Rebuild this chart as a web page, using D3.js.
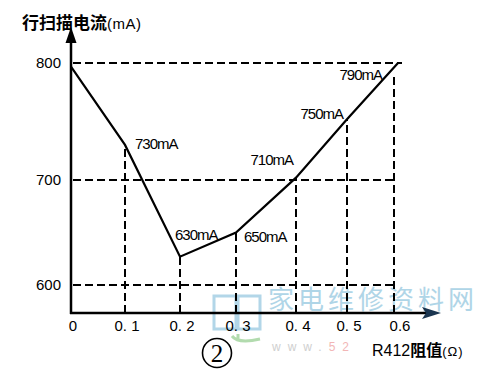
<!DOCTYPE html>
<html><head><meta charset="utf-8">
<script src="https://cdn.jsdelivr.net/npm/d3@7"></script>
<style>body{margin:0;background:#fff}svg{display:block}</style>
</head><body>
<script>
// ---- data ----
const resistance = [0, 0.1, 0.2, 0.3, 0.4, 0.5, 0.6];
const currentMA = [797, 730, 627, 650, 702, 752, 800];
const pointLabels = ["", "730mA", "630mA", "650mA", "710mA", "750mA", "790mA"];
const xTickValues = [0, 0.1, 0.2, 0.3, 0.4, 0.5, 0.6];
const xTickLabels = ["0", "0. 1", "0. 2", "0. 3", "0. 4", "0. 5", "0.6"];
const yTickValues = [600, 700, 800];
const yTickLabels = ["600", "700", "800"];
const yTitleMain = "行扫描电流", yTitleUnit = "(mA)";
const xTitleMain = "R412", xTitleCJK = "阻值", xTitleUnit = "(Ω)";
const figureNumber = "2"; // drawn inside a circle: ②
const watermark = "家电维修资料网";

// ---- layout (not data) ----
const W = 489, H = 370;
const labelPlacement = [null,
  {dx: 10, dy: 4, anchor: "start"},
  {dx: -5, dy: -17, anchor: "start"},
  {dx: 8, dy: 9, anchor: "start"},
  {dx: -3, dy: -13, anchor: "end"},
  {dx: -4, dy: 0, anchor: "end"},
  {dx: -16, dy: 17, anchor: "end"}];

const svg = d3.select("body").append("svg").attr("width", W).attr("height", H);
svg.append("rect").attr("width", W).attr("height", H).attr("fill", "#fff");

// hand-drawn chart: piecewise scales following the drawn tick positions
const x = d3.scaleLinear().domain(xTickValues).range([71, 125, 180, 236, 296, 347, 398]);
const y = d3.scaleLinear().domain(yTickValues).range([285, 180, 63]);

const axisY = 313, axisX = x(0);
const font = "'Liberation Sans', Arial, sans-serif";
const cjk = "'Noto Sans CJK SC', sans-serif";

// watermark
const wm = svg.append("g").attr("opacity", 0.8);
wm.append("rect").attr("x", 214).attr("y", 296).attr("width", 22).attr("height", 33)
  .attr("fill", "none").attr("stroke", "#9fcde3").attr("stroke-width", 3);
wm.append("rect").attr("x", 238).attr("y", 296).attr("width", 22).attr("height", 33)
  .attr("fill", "none").attr("stroke", "#9fcde3").attr("stroke-width", 3);
wm.append("path").attr("d", "M238,340 L238,334 M232,336 Q238,344 260,339")
  .attr("fill", "none").attr("stroke", "#9fd39a").attr("stroke-width", 3);
wm.append("text").attr("x", 268).attr("y", 309).attr("font-family", cjk)
  .attr("font-size", 26).attr("letter-spacing", 4).attr("fill", "#9ccbe2").text(watermark);
const wt = wm.append("text").attr("x", 272).attr("y", 351).attr("font-family", font)
  .attr("font-size", 12).attr("letter-spacing", 7);
wt.append("tspan").attr("fill", "#c4c4c4").text("www.");
wt.append("tspan").attr("fill", "#f0a5a5").text("52");

const dash = "8,4";
// horizontal dashed grid
svg.append("g").selectAll("line").data(yTickValues).join("line")
  .attr("x1", axisX + 2).attr("x2", d => d === 800 ? x(0.6) + 4 : x(0.6) - 4)
  .attr("y1", d => y(d)).attr("y2", d => y(d))
  .attr("stroke", "#000").attr("stroke-width", 2).attr("stroke-dasharray", dash);
// vertical dashed drop lines
svg.append("g").selectAll("line").data(resistance.slice(1)).join("line")
  .attr("x1", (d, i) => x(d) - (i === 5 ? 4 : 0)).attr("x2", (d, i) => x(d) - (i === 5 ? 4 : 0))
  .attr("y1", axisY).attr("y2", (d, i) => y(currentMA[i + 1]) + (i === 5 ? 10 : 0))
  .attr("stroke", "#000").attr("stroke-width", 2).attr("stroke-dasharray", dash);

// axes
svg.append("line").attr("x1", axisX).attr("x2", axisX).attr("y1", axisY + 1).attr("y2", 40)
  .attr("stroke", "#000").attr("stroke-width", 2.5);
svg.append("path").attr("d", `M${axisX},27 L${axisX - 5.5},43 L${axisX + 5.5},43 Z`).attr("fill", "#000");
svg.append("line").attr("x1", axisX - 1).attr("x2", 428).attr("y1", axisY).attr("y2", axisY)
  .attr("stroke", "#000").attr("stroke-width", 2.5);
svg.append("path").attr("d", `M441,${axisY} L422,${axisY - 6} L426,${axisY} L422,${axisY + 6} Z`).attr("fill", "#1a3550");

// data line
svg.append("path").datum(resistance.map((r, i) => [r, currentMA[i]]))
  .attr("d", d3.line().x(d => x(d[0])).y(d => y(d[1])))
  .attr("fill", "none").attr("stroke", "#000").attr("stroke-width", 2.2).attr("stroke-linejoin", "miter");

// point labels
svg.append("g").selectAll("text").data(resistance.map((r, i) => i).filter(i => pointLabels[i])).join("text")
  .attr("x", i => x(resistance[i]) + labelPlacement[i].dx)
  .attr("y", i => y(currentMA[i]) + labelPlacement[i].dy)
  .attr("text-anchor", i => labelPlacement[i].anchor)
  .attr("font-family", font).attr("font-size", 15).attr("letter-spacing", -1)
  .attr("fill", "#000").text(i => pointLabels[i]);

// y tick labels
svg.append("g").selectAll("text").data(yTickValues).join("text")
  .attr("x", 61).attr("y", d => y(d) + 5).attr("text-anchor", "end")
  .attr("font-family", font).attr("font-size", 15).attr("fill", "#000")
  .text((d, i) => yTickLabels[i]);

// x tick labels
svg.append("g").selectAll("text").data(xTickValues).join("text")
  .attr("x", d => x(d) + 2).attr("y", 331).attr("text-anchor", "middle")
  .attr("font-family", font).attr("font-size", 15).attr("fill", "#000")
  .text((d, i) => xTickLabels[i]);

// y title
const yt = svg.append("text").attr("x", 22).attr("y", 29).attr("fill", "#000");
yt.append("tspan").attr("font-family", cjk).attr("font-size", 17).attr("font-weight", "bold").text(yTitleMain);
yt.append("tspan").attr("font-family", font).attr("font-size", 15).attr("letter-spacing", 0.5).text(yTitleUnit);

// x title
const xt = svg.append("text").attr("x", 372).attr("y", 356).attr("fill", "#000");
xt.append("tspan").attr("font-family", font).attr("font-size", 16).text(xTitleMain);
xt.append("tspan").attr("font-family", cjk).attr("font-size", 16).attr("font-weight", "bold").text(xTitleCJK);
xt.append("tspan").attr("font-family", font).attr("font-size", 13).attr("letter-spacing", 1).text(xTitleUnit);

// figure mark ②
svg.append("circle").attr("cx", 217).attr("cy", 353).attr("r", 14.5)
  .attr("fill", "none").attr("stroke", "#000").attr("stroke-width", 1.6);
svg.append("text").attr("x", 217).attr("y", 362).attr("text-anchor", "middle")
  .attr("font-family", "'Liberation Serif', serif").attr("font-size", 25).attr("fill", "#000").text(figureNumber);
</script>
</body></html>
